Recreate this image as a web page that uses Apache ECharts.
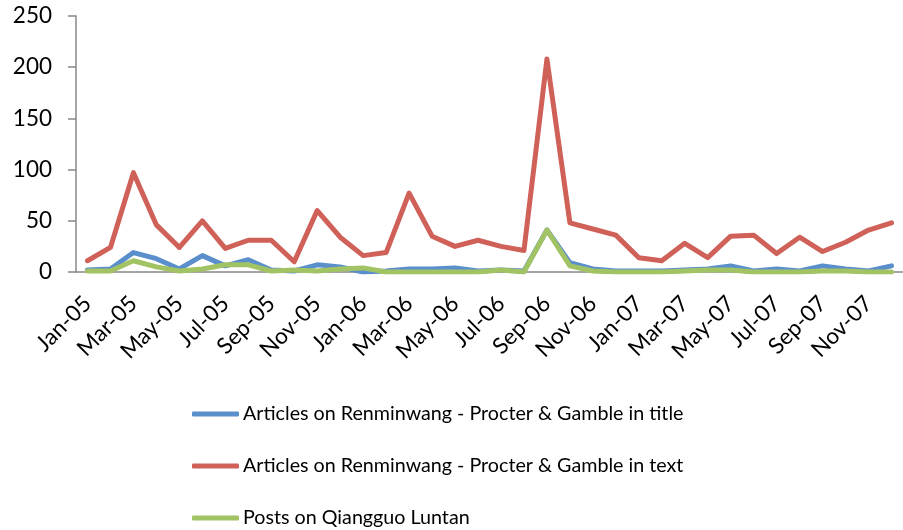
<!DOCTYPE html>
<html>
<head>
<meta charset="utf-8">
<script src="https://cdn.jsdelivr.net/npm/echarts@6/dist/echarts.min.js"></script>
<style>
html,body{margin:0;padding:0;background:#fff;}
#chart{width:903px;height:530px;}
</style>
</head>
<body>
<div id="chart"></div>
<script>
const categories = ["Jan-05","Feb-05","Mar-05","Apr-05","May-05","Jun-05","Jul-05","Aug-05","Sep-05","Oct-05","Nov-05","Dec-05",
"Jan-06","Feb-06","Mar-06","Apr-06","May-06","Jun-06","Jul-06","Aug-06","Sep-06","Oct-06","Nov-06","Dec-06",
"Jan-07","Feb-07","Mar-07","Apr-07","May-07","Jun-07","Jul-07","Aug-07","Sep-07","Oct-07","Nov-07","Dec-07"];
const titleArticles = [2,3,19,13,3,16,6,12,2,1,7,5, 0,1,3,3,4,1,2,1,41,9,3,1, 1,1,2,3,6,1,3,1,6,3,1,6];
const textArticles = [11,24,97,46,24,50,23,31,31,10,60,34, 16,19,77,35,25,31,25,21,208,48,42,36, 14,11,28,14,35,36,18,34,20,29,41,48];
const qiangguoPosts = [1,1,11,5,1,3,7,7,1,2,1,3, 4,0,0,0,0,0,2,0,41,6,1,0, 0,0,1,2,2,0,0,0,1,1,0,0];
const seriesNames = ["Articles on Renminwang - Procter & Gamble in title","Articles on Renminwang - Procter & Gamble in text","Posts on Qiangguo Luntan"];
const yTicks = {min:0, max:250, interval:50};

const colors = ['#5B8FCC','#CF6159','#A2C364'];
const chart = echarts.init(document.getElementById('chart'), null, {renderer:'canvas'});
const font = 'Lato';
function mk(name, data, color){
  return {name:name, type:'line', data:data, symbol:'none', smooth:false,
    lineStyle:{width:5, color:color, cap:'round', join:'round'}, itemStyle:{color:color}};
}
chart.setOption({
  animation:false,
  color:colors,
  grid:{left:76, top:16, width:833, height:256},
  xAxis:{type:'category', data:categories, boundaryGap:true,
    axisLine:{lineStyle:{color:'#888', width:1.5}},
    axisTick:{interval:1, length:8, lineStyle:{color:'#888', width:1.5}},
    axisLabel:{interval:1, rotate:45, margin:28, fontFamily:font, fontSize:22.5, color:'#000'}},
  yAxis:{type:'value', min:yTicks.min, max:yTicks.max, interval:yTicks.interval,
    splitLine:{show:false},
    axisLine:{show:true, lineStyle:{color:'#888', width:1.5}},
    axisTick:{show:true, length:8, lineStyle:{color:'#888', width:1.5}},
    axisLabel:{margin:24, fontFamily:font, fontSize:22.5, color:'#000', padding:[8,0,0,0]}},
  legend:{orient:'vertical', left:192, top:402, height:140, padding:0, icon:'roundRect', itemWidth:47, itemHeight:5, itemGap:28,
    textStyle:{fontFamily:font, fontSize:19.7, lineHeight:24, color:'#000', padding:[0,0,0,-1]},
    data:seriesNames},
  series:[mk(seriesNames[0], titleArticles, colors[0]), mk(seriesNames[1], textArticles, colors[1]), mk(seriesNames[2], qiangguoPosts, colors[2])]
});
</script>
</body>
</html>
